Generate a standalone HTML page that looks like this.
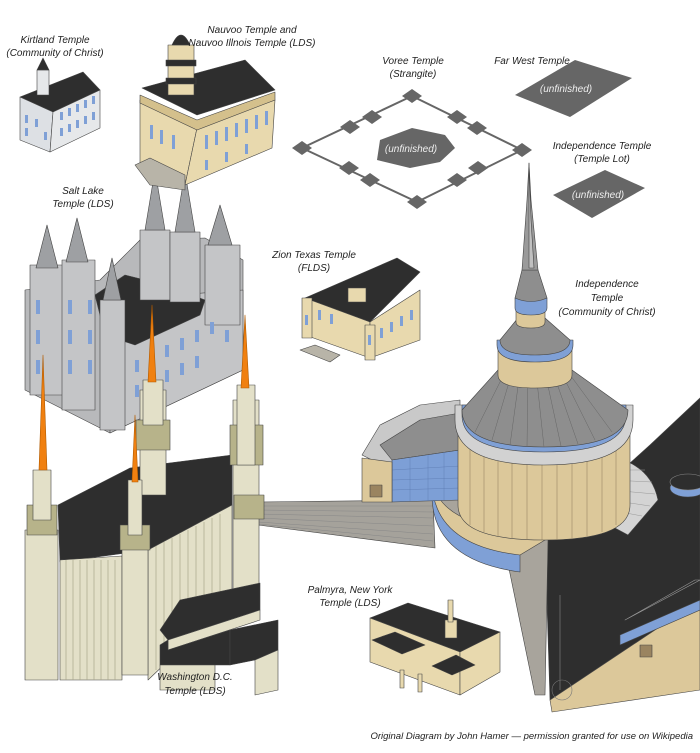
<!DOCTYPE html>
<html><head><meta charset="utf-8"><style>
html,body{margin:0;padding:0;background:#fff;width:700px;height:753px;overflow:hidden}
svg{display:block}
text{font-family:"Liberation Sans",sans-serif;font-style:italic;font-size:10px;fill:#222}
.w{fill:#eee}
</style></head><body>
<svg width="700" height="753" viewBox="0 0 700 753" xmlns="http://www.w3.org/2000/svg">
<g stroke="#444" stroke-width="0.6" stroke-linejoin="round">

<!-- Independence Temple (Community of Christ) -->
<polygon points="545,540 600,490 650,445 700,398 700,600 550,700" fill="#2e2e2e"/>
<polygon points="550,700 700,600 700,690 552,712" fill="#dcc89a"/>
<polygon points="625,620 695,580 700,580" fill="none" stroke="#999"/>
<polyline points="560,595 560,690" fill="none" stroke="#888"/>
<polygon points="620,635 700,600 700,610 620,645" fill="#7fa0d6"/>
<rect x="640" y="645" width="12" height="12" fill="#9a8460"/>
<circle cx="562" cy="690" r="10" fill="none" stroke="#777"/>
<ellipse cx="688" cy="488" rx="18" ry="9" fill="#7fa0d6"/>
<ellipse cx="688" cy="482" rx="18" ry="8" fill="#2e2e2e" stroke="#888"/>
<polygon points="500,525 545,525 548,540 545,695 535,695" fill="#a8a49c"/>
<polygon points="258,502 433,500 435,548 258,525" fill="#a5a29b"/>
<g stroke="#888" stroke-width="0.5">
<line x1="258" y1="506" x2="433" y2="506"/><line x1="258" y1="510" x2="433" y2="512"/>
<line x1="258" y1="514" x2="433" y2="518"/><line x1="258" y1="518" x2="433" y2="526"/>
<line x1="258" y1="522" x2="433" y2="534"/><line x1="258" y1="524" x2="433" y2="541"/>
</g>
<path d="M432,495 Q432,560 520,572 L520,545 Q445,535 445,495 Z" fill="#7fa0d6"/>
<path d="M432,480 Q432,545 520,555 L545,540 Q445,530 445,480 Z" fill="#dcc89a"/>
<path d="M432,480 Q440,525 520,530 L600,520 Q630,500 630,470 L455,470 Z" fill="#a8a49c"/>
<polygon points="362,455 380,425 420,405 460,400 460,460 392,470" fill="#c9c9c9"/>
<polygon points="380,445 420,420 460,413 460,450 392,460" fill="#8e8e8e"/>
<polygon points="392,460 460,450 460,500 392,502" fill="#7d9fd6"/>
<g stroke="#5a78b0" stroke-width="0.4">
<line x1="392" y1="470" x2="460" y2="466"/><line x1="392" y1="480" x2="460" y2="478"/><line x1="392" y1="490" x2="460" y2="488"/>
<line x1="410" y1="458" x2="410" y2="501"/><line x1="428" y1="455" x2="428" y2="501"/><line x1="444" y1="452" x2="444" y2="500"/>
</g>
<polygon points="362,458 392,462 392,502 362,502" fill="#dcc89a"/>
<rect x="370" y="485" width="12" height="12" fill="#9a8460"/>
<path d="M600,455 Q650,460 658,500 L628,535 L600,520 Z" fill="#d4d4d4"/>
<g stroke="#999" stroke-width="0.5"><line x1="610" y1="470" x2="645" y2="470"/><line x1="610" y1="480" x2="652" y2="482"/><line x1="610" y1="490" x2="655" y2="494"/><line x1="610" y1="500" x2="650" y2="506"/><line x1="610" y1="510" x2="642" y2="516"/></g>
<path d="M458,430 L630,430 L630,505 Q630,540 544,540 Q458,540 458,505 Z" fill="#dcc89a"/>
<g stroke="#8a7a58" stroke-width="0.5">
<line x1="470" y1="440" x2="470" y2="525"/><line x1="484" y1="440" x2="484" y2="532"/><line x1="498" y1="440" x2="498" y2="536"/>
<line x1="512" y1="440" x2="512" y2="538"/><line x1="527" y1="440" x2="527" y2="540"/><line x1="542" y1="440" x2="542" y2="540"/>
<line x1="557" y1="440" x2="557" y2="540"/><line x1="572" y1="440" x2="572" y2="538"/><line x1="587" y1="440" x2="587" y2="536"/>
<line x1="602" y1="440" x2="602" y2="532"/><line x1="616" y1="440" x2="616" y2="525"/>
</g>
<path d="M455,420 Q455,465 544,465 Q633,465 633,420 L633,405 L455,405 Z" fill="#d2d2d2"/>
<path d="M462,415 Q462,452 544,452 Q626,452 626,415 L626,405 L462,405 Z" fill="#7fa0d6"/>
<path d="M498,370 L572,370 L628,410 Q628,447 544,447 Q462,447 462,410 Z" fill="#8e8e8e"/>
<g stroke="#666" stroke-width="0.5">
<line x1="505" y1="372" x2="475" y2="432"/><line x1="512" y1="372" x2="492" y2="440"/><line x1="520" y1="372" x2="510" y2="445"/>
<line x1="528" y1="372" x2="527" y2="447"/><line x1="536" y1="372" x2="544" y2="447"/><line x1="545" y1="372" x2="561" y2="446"/>
<line x1="553" y1="372" x2="578" y2="444"/><line x1="561" y1="372" x2="595" y2="440"/><line x1="568" y1="372" x2="612" y2="432"/>
</g>
<path d="M498,345 L572,345 L572,375 Q572,388 535,388 Q498,388 498,375 Z" fill="#dcc89a"/>
<path d="M497,345 Q497,362 535,362 Q573,362 573,345 L573,340 L497,340 Z" fill="#7fa0d6"/>
<path d="M518,318 L545,318 L570,340 Q570,355 535,355 Q500,355 500,340 Z" fill="#8e8e8e"/>
<path d="M516,305 L545,305 L545,322 Q545,328 531,328 Q516,328 516,322 Z" fill="#dcc89a"/>
<path d="M515,298 L547,298 L547,308 Q547,315 531,315 Q515,315 515,308 Z" fill="#7fa0d6"/>
<path d="M522,270 L538,270 L547,298 Q531,305 515,298 Z" fill="#8e8e8e"/>
<polygon points="529,163 531,200 538,270 522,270 527,200" fill="#9a9a9a"/>
<polygon points="529,163 531,220 534,268 529,268" fill="#c0c0c0"/>

<!-- Salt Lake Temple (behind DC) -->
<polygon points="25,290 25,390 110,433 243,370 243,260 205,238 140,240 100,280" fill="#b8b9bb"/>
<polygon points="110,300 110,433 243,370 243,290" fill="#c4c5c7"/>
<polygon points="95,295 125,275 165,285 205,300 200,315 135,345 105,335" fill="#2e2e2e"/>
<g fill="#c4c5c7">
<rect x="140" y="230" width="30" height="70"/><rect x="170" y="232" width="30" height="70"/><rect x="205" y="245" width="35" height="80"/>
<rect x="30" y="265" width="35" height="130"/><rect x="62" y="260" width="33" height="150"/><rect x="100" y="300" width="25" height="130"/>
</g>
<g fill="#9ea0a3">
<polygon points="155,170 165,230 145,230"/><polygon points="185,172 195,232 175,232"/><polygon points="220,205 232,245 208,245"/>
<polygon points="47,225 58,268 36,268"/><polygon points="77,218 88,262 66,262"/><polygon points="112,258 121,300 103,300"/>
</g>
<g fill="#7fa0d6" stroke="none">
<rect x="36" y="300" width="4" height="14"/><rect x="36" y="330" width="4" height="14"/><rect x="36" y="360" width="4" height="14"/>
<rect x="68" y="300" width="4" height="14"/><rect x="68" y="330" width="4" height="14"/><rect x="68" y="360" width="4" height="14"/>
<rect x="88" y="300" width="4" height="14"/><rect x="88" y="330" width="4" height="14"/><rect x="88" y="360" width="4" height="14"/>
<rect x="135" y="360" width="4" height="12"/><rect x="150" y="352" width="4" height="12"/><rect x="165" y="345" width="4" height="12"/>
<rect x="180" y="338" width="4" height="12"/><rect x="195" y="330" width="4" height="12"/><rect x="210" y="322" width="4" height="12"/>
<rect x="135" y="385" width="4" height="12"/><rect x="150" y="378" width="4" height="12"/><rect x="165" y="370" width="4" height="12"/>
<rect x="180" y="363" width="4" height="12"/><rect x="195" y="356" width="4" height="12"/><rect x="225" y="330" width="4" height="12"/>
</g>

<!-- Washington DC Temple -->
<polygon points="58,505 130,468 232,455 232,505 148,550 60,562" fill="#2e2e2e"/>
<polygon points="60,560 122,556 122,680 60,680" fill="#e3e0c8"/>
<polygon points="148,550 232,505 232,600 148,680" fill="#e3e0c8"/>
<g stroke="#a9a68c" stroke-width="0.7">
<line x1="66" y1="560" x2="66" y2="680"/><line x1="73" y1="560" x2="73" y2="680"/><line x1="80" y1="560" x2="80" y2="680"/>
<line x1="87" y1="560" x2="87" y2="680"/><line x1="94" y1="560" x2="94" y2="680"/><line x1="101" y1="560" x2="101" y2="680"/>
<line x1="108" y1="560" x2="108" y2="680"/><line x1="115" y1="560" x2="115" y2="680"/>
<line x1="156" y1="546" x2="156" y2="670"/><line x1="164" y1="542" x2="164" y2="660"/><line x1="172" y1="538" x2="172" y2="650"/>
<line x1="180" y1="534" x2="180" y2="640"/><line x1="188" y1="530" x2="188" y2="630"/><line x1="196" y1="526" x2="196" y2="620"/>
<line x1="204" y1="522" x2="204" y2="610"/><line x1="212" y1="518" x2="212" y2="600"/><line x1="220" y1="514" x2="220" y2="595"/>
</g>
<rect x="140" y="390" width="26" height="105" fill="#e3e0c8"/>
<rect x="136" y="420" width="34" height="30" fill="#b7b38a"/>
<rect x="143" y="380" width="20" height="45" fill="#e3e0c8"/>
<rect x="233" y="400" width="26" height="200" fill="#e3e0c8"/>
<rect x="230" y="425" width="33" height="40" fill="#b7b38a"/>
<rect x="234" y="495" width="30" height="24" fill="#b7b38a"/>
<rect x="237" y="385" width="18" height="80" fill="#e3e0c8"/>
<rect x="25" y="530" width="33" height="150" fill="#e3e0c8"/>
<rect x="27" y="505" width="30" height="30" fill="#b7b38a"/>
<rect x="33" y="470" width="18" height="50" fill="#e3e0c8"/>
<rect x="122" y="545" width="26" height="130" fill="#e3e0c8"/>
<rect x="120" y="525" width="30" height="25" fill="#b7b38a"/>
<rect x="128" y="480" width="14" height="55" fill="#e3e0c8"/>
<polygon points="43,355 47,470 39,470" fill="#f08010" stroke="#b05a00"/>
<polygon points="152,305 156,382 148,382" fill="#f08010" stroke="#b05a00"/>
<polygon points="245,315 249,388 241,388" fill="#f08010" stroke="#b05a00"/>
<polygon points="135,415 138,482 132,482" fill="#f08010" stroke="#b05a00"/>
<polygon points="160,630 180,600 260,583 260,610 168,640" fill="#2e2e2e"/>
<polygon points="168,640 260,610 260,620 168,650" fill="#e3e0c8"/>
<polygon points="160,645 168,640 168,650 230,630 230,665 160,665" fill="#2e2e2e"/>
<polygon points="160,665 215,665 215,690 160,690" fill="#e3e0c8"/>
<polygon points="230,630 278,620 278,650 255,660 230,665" fill="#2e2e2e"/>
<polygon points="255,660 278,650 278,690 255,695" fill="#e3e0c8"/>

<!-- Kirtland Temple -->
<polygon points="20,97 83,72 100,90 53,112" fill="#2e2e2e"/>
<polygon points="20,97 53,112 50,152 20,140" fill="#dde0e4"/>
<polygon points="53,112 100,90 100,128 50,152" fill="#e6e8ea"/>
<rect x="37" y="70" width="12" height="25" fill="#e6e8ea"/>
<polygon points="37,70 43,58 49,70" fill="#2e2e2e"/>
<g fill="#7fa0d6" stroke="none">
<rect x="25" y="115" width="3" height="8"/><rect x="35" y="119" width="3" height="8"/><rect x="25" y="128" width="3" height="8"/><rect x="44" y="132" width="3" height="8"/>
<rect x="60" y="112" width="3" height="8"/><rect x="68" y="108" width="3" height="8"/><rect x="76" y="104" width="3" height="8"/><rect x="84" y="100" width="3" height="8"/><rect x="92" y="96" width="3" height="8"/>
<rect x="60" y="128" width="3" height="8"/><rect x="68" y="124" width="3" height="8"/><rect x="76" y="120" width="3" height="8"/><rect x="84" y="116" width="3" height="8"/><rect x="92" y="112" width="3" height="8"/>
</g>

<!-- Nauvoo Temple -->
<polygon points="142,88 245,60 275,90 197,115" fill="#2e2e2e"/>
<polygon points="140,100 197,128 185,185 140,165" fill="#e8d9ae"/>
<polygon points="197,128 275,100 272,148 185,185" fill="#e8d9ae"/>
<polygon points="140,95 197,120 275,92 275,100 197,130 140,103" fill="#d4c08c"/>
<polygon points="135,165 150,158 185,175 185,190 150,185" fill="#b8b4a8"/>
<rect x="168" y="45" width="26" height="50" fill="#e8d9ae"/>
<rect x="166" y="60" width="30" height="6" fill="#2e2e2e"/>
<rect x="166" y="78" width="30" height="6" fill="#2e2e2e"/>
<path d="M172,45 Q181,25 190,45 Z" fill="#2e2e2e"/>
<g fill="#7fa0d6" stroke="none">
<rect x="150" y="125" width="3" height="14"/><rect x="160" y="130" width="3" height="14"/><rect x="172" y="135" width="3" height="14"/>
<rect x="205" y="135" width="3" height="14"/><rect x="215" y="131" width="3" height="14"/><rect x="225" y="127" width="3" height="14"/>
<rect x="235" y="123" width="3" height="14"/><rect x="245" y="119" width="3" height="14"/><rect x="255" y="115" width="3" height="14"/><rect x="265" y="111" width="3" height="14"/>
<rect x="205" y="160" width="3" height="10"/><rect x="225" y="152" width="3" height="10"/><rect x="245" y="144" width="3" height="10"/>
</g>

<!-- Zion Texas -->
<polygon points="305,298 397,258 420,272 370,322" fill="#2e2e2e"/>
<polygon points="305,298 370,322 370,358 305,335" fill="#e8d9ae"/>
<polygon points="370,322 420,290 420,340 370,358" fill="#e8d9ae"/>
<polygon points="300,350 315,345 340,355 330,362" fill="#b8b4a8"/>
<rect x="302" y="298" width="10" height="40" fill="#e8d9ae"/>
<rect x="365" y="325" width="10" height="35" fill="#e8d9ae"/>
<rect x="348" y="288" width="18" height="14" fill="#e8d9ae"/>
<g fill="#7fa0d6" stroke="none">
<rect x="318" y="310" width="3" height="10"/><rect x="330" y="314" width="3" height="10"/><rect x="380" y="328" width="3" height="10"/>
<rect x="390" y="322" width="3" height="10"/><rect x="400" y="316" width="3" height="10"/><rect x="410" y="310" width="3" height="10"/>
<rect x="305" y="315" width="3" height="10"/><rect x="368" y="335" width="3" height="10"/>
</g>

<!-- Palmyra -->
<polygon points="370,618 408,603 500,632 460,652" fill="#2e2e2e"/>
<polygon points="370,618 460,652 460,695 370,662" fill="#e8d9ae"/>
<polygon points="460,652 500,632 500,672 460,695" fill="#e8d9ae"/>
<polygon points="372,640 395,632 425,645 402,654" fill="#2e2e2e"/>
<polygon points="432,666 456,655 475,665 452,675" fill="#2e2e2e"/>
<rect x="445" y="620" width="12" height="18" fill="#e8d9ae"/>
<rect x="448" y="600" width="5" height="22" fill="#e8d9ae"/>
<rect x="400" y="670" width="4" height="18" fill="#e8d9ae"/>
<rect x="418" y="674" width="4" height="18" fill="#e8d9ae"/>

<!-- Voree -->
<polygon points="412,96 522,150 417,202 302,148" fill="none" stroke="#666" stroke-width="2"/>
<polygon points="412,128 445,135 455,148 440,162 410,168 377,160 380,140" fill="#666" stroke="none"/>
<g fill="#666" stroke="none">
<polygon points="412,89 422,96 412,103 402,96"/><polygon points="302,141 312,148 302,155 292,148"/>
<polygon points="522,143 532,150 522,157 512,150"/><polygon points="417,195 427,202 417,209 407,202"/>
<polygon points="372,110 382,117 372,124 362,117"/><polygon points="457,110 467,117 457,124 447,117"/>
<polygon points="350,120 360,127 350,134 340,127"/><polygon points="477,121 487,128 477,135 467,128"/>
<polygon points="349,161 359,168 349,175 339,168"/><polygon points="478,161 488,168 478,175 468,168"/>
<polygon points="370,173 380,180 370,187 360,180"/><polygon points="457,173 467,180 457,187 447,180"/>
</g>
<polygon points="515,95 575,60 632,78 570,117" fill="#666" stroke="none"/>
<polygon points="553,195 605,170 645,188 592,218" fill="#666" stroke="none"/>
</g>

<text x="55" y="43" text-anchor="middle">Kirtland Temple</text>
<text x="55" y="56" text-anchor="middle">(Community of Christ)</text>
<text x="252" y="33" text-anchor="middle">Nauvoo Temple and</text>
<text x="252" y="46" text-anchor="middle">Nauvoo Illnois Temple (LDS)</text>
<text x="413" y="64" text-anchor="middle">Voree Temple</text>
<text x="413" y="77" text-anchor="middle">(Strangite)</text>
<text x="532" y="64" text-anchor="middle">Far West Temple</text>
<text x="566" y="92" text-anchor="middle" class="w">(unfinished)</text>
<text x="411" y="152" text-anchor="middle" class="w">(unfinished)</text>
<text x="602" y="149" text-anchor="middle">Independence Temple</text>
<text x="602" y="162" text-anchor="middle">(Temple Lot)</text>
<text x="598" y="198" text-anchor="middle" class="w">(unfinished)</text>
<text x="83" y="194" text-anchor="middle">Salt Lake</text>
<text x="83" y="207" text-anchor="middle">Temple (LDS)</text>
<text x="314" y="258" text-anchor="middle">Zion Texas Temple</text>
<text x="314" y="271" text-anchor="middle">(FLDS)</text>
<text x="607" y="287" text-anchor="middle">Independence</text>
<text x="607" y="301" text-anchor="middle">Temple</text>
<text x="607" y="315" text-anchor="middle">(Community of Christ)</text>
<text x="350" y="593" text-anchor="middle">Palmyra, New York</text>
<text x="350" y="606" text-anchor="middle">Temple (LDS)</text>
<text x="195" y="680" text-anchor="middle">Washington D.C.</text>
<text x="195" y="694" text-anchor="middle">Temple (LDS)</text>
<text x="693" y="739" text-anchor="end" style="font-size:9.5px">Original Diagram by John Hamer — permission granted for use on Wikipedia</text>
</svg>
</body></html>
